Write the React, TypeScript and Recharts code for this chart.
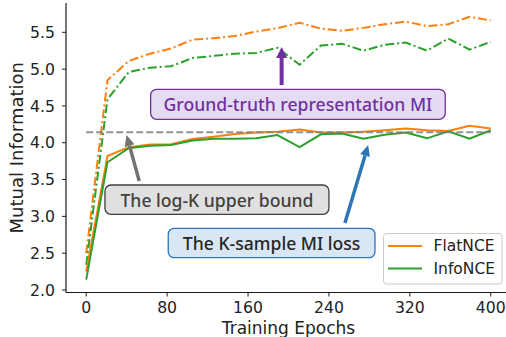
import React from 'react';
import { LineChart, Line, XAxis, YAxis, ReferenceLine, ReferenceArea, Legend } from 'recharts';

const epochs = [0, 21, 42, 63, 84, 105, 126, 147, 168, 189, 211, 232, 253, 274, 295, 316, 337, 358, 379, 400];
const flatTrueMI = [2.5, 4.85, 5.11, 5.21, 5.28, 5.4, 5.42, 5.45, 5.51, 5.555, 5.63, 5.55, 5.52, 5.56, 5.61, 5.645, 5.585, 5.61, 5.71, 5.66];
const infoTrueMI = [2.34, 4.59, 4.96, 5.02, 5.04, 5.15, 5.18, 5.21, 5.22, 5.29, 5.06, 5.32, 5.345, 5.25, 5.33, 5.36, 5.25, 5.415, 5.265, 5.37];
const flatLoss = [2.25, 3.82, 3.94, 3.975, 3.98, 4.05, 4.08, 4.12, 4.14, 4.15, 4.18, 4.14, 4.14, 4.15, 4.17, 4.195, 4.17, 4.16, 4.23, 4.195];
const infoLoss = [2.14, 3.735, 3.925, 3.96, 3.97, 4.03, 4.055, 4.055, 4.06, 4.105, 3.94, 4.115, 4.125, 4.055, 4.11, 4.14, 4.06, 4.155, 4.055, 4.17];
const logK = 4.143;
const xTicks = [0, 80, 160, 240, 320, 400];
const yTicks = [2.0, 2.5, 3.0, 3.5, 4.0, 4.5, 5.0, 5.5];
const xDomain = [-20, 420];
const yDomain = [1.966, 5.898];

const data = epochs.map((e, i) => ({
  epoch: e,
  flatTrue: flatTrueMI[i],
  infoTrue: infoTrueMI[i],
  flat: flatLoss[i],
  info: infoLoss[i],
}));

const ORANGE = '#ff7f0e';
const GREEN = '#2ca02c';
const AX = '#1a1a1a';
const TICK_FONT = 'DejaVu Sans';
const ANN_FONT = 'Noto Sans';

const arrowShape = (color: string, shaftW: number, headLen: number, headW: number) => (p: any) => {
  const { x1, y1, x2, y2 } = p;
  const dx = x2 - x1, dy = y2 - y1;
  const len = Math.hypot(dx, dy) || 1;
  const ux = dx / len, uy = dy / len;
  const bx = x2 - ux * headLen, by = y2 - uy * headLen;
  const px = -uy, py = ux;
  return (
    <g>
      <line x1={x1} y1={y1} x2={bx} y2={by} stroke={color} strokeWidth={shaftW} />
      <polygon
        points={`${x2},${y2} ${bx + (px * headW) / 2},${by + (py * headW) / 2} ${bx - (px * headW) / 2},${by - (py * headW) / 2}`}
        fill={color}
      />
    </g>
  );
};

const boxShape = (text: string, fill: string, stroke: string, color: string) => (p: any) => {
  const { x, y, width, height } = p;
  return (
    <g>
      <rect x={x} y={y} width={width} height={height} rx={6} ry={6} fill={fill} stroke={stroke} strokeWidth={1.3} />
      <text
        x={x + width / 2}
        y={y + height / 2}
        textAnchor="middle"
        dominantBaseline="central"
        fill={color}
        fontFamily={ANN_FONT}
        fontWeight={500}
        fontSize={17.6}
      >
        {text}
      </text>
    </g>
  );
};

const LegendBox = (props: any) => {
  const items = (props.payload || []).filter((it: any) => it.value === 'FlatNCE' || it.value === 'InfoNCE');
  return (
    <svg width={120} height={52} style={{ display: 'block' }}>
      <rect x={0.5} y={0.5} width={118.5} height={50.5} rx={3} fill="#fff" fillOpacity={0.85} stroke="#cccccc" />
      {items.map((it: any, i: number) => (
        <g key={it.value}>
          <line x1={5} x2={39} y1={13 + i * 22.6} y2={13 + i * 22.6} stroke={it.color} strokeWidth={2} />
          <text x={50.5} y={13 + i * 22.6} dominantBaseline="central" fontFamily={TICK_FONT} fontSize={15.5} fill="#222">
            {it.value}
          </text>
        </g>
      ))}
    </svg>
  );
};

export default function App() {
  return (
    <div style={{ position: 'absolute', left: 0, top: 0, width: 506, height: 337, overflow: 'hidden', background: '#fff' }}>
      <LineChart width={520} height={337} data={data} margin={{ top: 3, right: 9, bottom: 0, left: 0 }}>
        <XAxis
          dataKey="epoch"
          type="number"
          domain={xDomain}
          ticks={xTicks}
          allowDataOverflow
          height={44.5}
          tickSize={4}
          tickMargin={5}
          axisLine={{ stroke: AX, strokeWidth: 1.2 }}
          tickLine={{ stroke: AX, strokeWidth: 1 }}
          tick={{ fill: '#222', fontSize: 15.7, fontFamily: TICK_FONT }}
          label={{
            content: (p: any) => {
              const vb = p.viewBox;
              return (
                <text x={vb.x + vb.width / 2} y={334} textAnchor="middle" fontFamily={TICK_FONT} fontSize={17} fill="#222">
                  Training Epochs
                </text>
              );
            },
          }}
        />
        <XAxis xAxisId="top" orientation="top" dataKey="epoch" type="number" domain={xDomain} height={0} tick={false} tickLine={false} axisLine={{ stroke: AX, strokeWidth: 1.2 }} />
        <YAxis
          type="number"
          domain={yDomain}
          ticks={yTicks}
          allowDataOverflow
          width={66}
          tickSize={4}
          tickMargin={7}
          tickFormatter={(v: number) => v.toFixed(1)}
          axisLine={{ stroke: AX, strokeWidth: 1.2 }}
          tickLine={{ stroke: AX, strokeWidth: 1 }}
          tick={{ fill: '#222', fontSize: 15.7, fontFamily: TICK_FONT }}
          label={{
            content: (p: any) => {
              const vb = p.viewBox;
              const cy = vb.y + vb.height / 2;
              return (
                <text x={16} y={cy} transform={`rotate(-90 16 ${cy})`} textAnchor="middle" dominantBaseline="central" fontFamily={TICK_FONT} fontSize={18} fill="#222">
                  Mutual Information
                </text>
              );
            },
          }}
        />
        <Line dataKey="flatTrue" name="FlatNCE (true MI)" stroke={ORANGE} strokeWidth={2} strokeDasharray="9 3 2 3" dot={false} isAnimationActive={false} legendType="none" />
        <Line dataKey="infoTrue" name="InfoNCE (true MI)" stroke={GREEN} strokeWidth={2} strokeDasharray="9 3 2 3" dot={false} isAnimationActive={false} legendType="none" />
        <Line dataKey="flat" name="FlatNCE" stroke={ORANGE} strokeWidth={2} dot={false} isAnimationActive={false} />
        <Line dataKey="info" name="InfoNCE" stroke={GREEN} strokeWidth={2} dot={false} isAnimationActive={false} />
        <ReferenceLine segment={[{ x: 0, y: logK }, { x: 400, y: logK }]} stroke="#808080" strokeOpacity={0.85} strokeWidth={2} strokeDasharray="7 3" ifOverflow="visible" />
        <ReferenceArea x1={63.7} x2={355} y1={4.318} y2={4.726} ifOverflow="visible" shape={boxShape('Ground-truth representation MI', '#e5dcf3', '#7030a0', '#7030a0')} />
        <ReferenceArea x1={18.5} x2={240} y1={3.028} y2={3.426} ifOverflow="visible" shape={boxShape('The log-K upper bound', '#e0e0e0', '#404040', '#404040')} />
        <ReferenceArea x1={81.1} x2={285.5} y1={2.439} y2={2.838} ifOverflow="visible" shape={boxShape('The K-sample MI loss', '#d9e7f5', '#2e75b6', '#262626')} />
        <ReferenceLine segment={[{ x: 193.2, y: 4.784 }, { x: 193.2, y: 5.3 }]} ifOverflow="visible" shape={arrowShape('#7030a0', 4, 11, 11)} />
        <ReferenceLine segment={[{ x: 52.4, y: 3.48 }, { x: 39.9, y: 4.105 }]} ifOverflow="visible" shape={arrowShape('#767171', 3.5, 11, 10)} />
        <ReferenceLine segment={[{ x: 255.8, y: 2.91 }, { x: 278.8, y: 3.97 }]} ifOverflow="visible" shape={arrowShape('#2e75b6', 3.5, 11, 10)} />
        <Legend
          layout="horizontal"
          verticalAlign="middle"
          align="center"
          content={<LegendBox />}
          wrapperStyle={{ position: 'absolute', left: 382.5, top: 232.5, width: 120, height: 52 }}
        />
      </LineChart>
    </div>
  );
}
